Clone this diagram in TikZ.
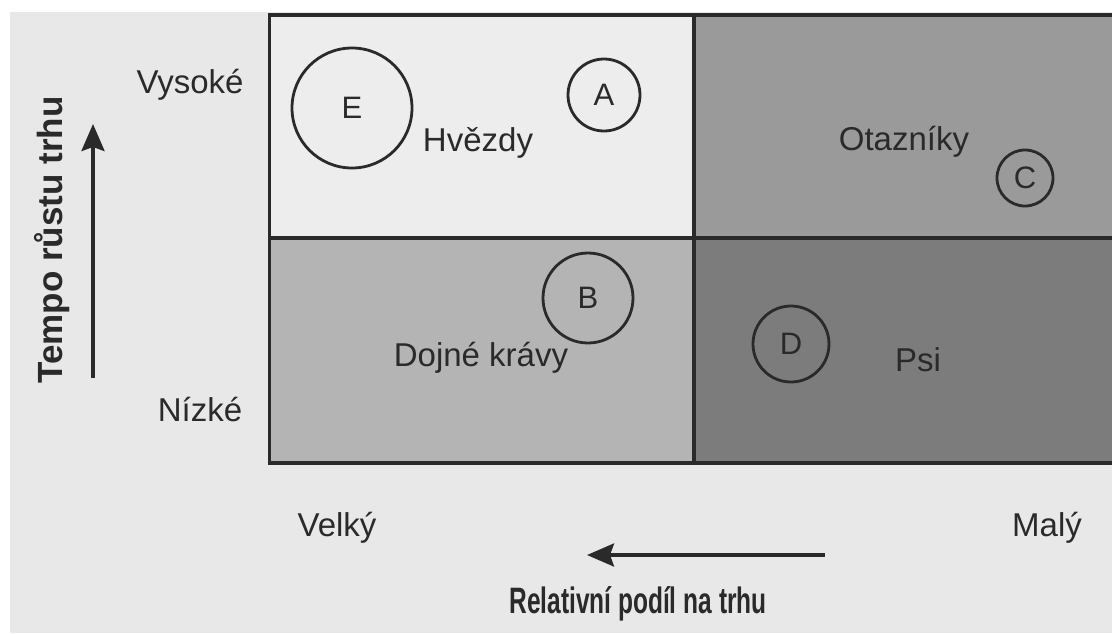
\documentclass[tikz,border=0pt]{standalone}
\usepackage{fontspec}
\setmainfont{Liberation Sans}
\usetikzlibrary{arrows.meta}
\definecolor{bg}{HTML}{E8E8E8}
\definecolor{qstar}{HTML}{EDEDED}
\definecolor{qques}{HTML}{9A9A9A}
\definecolor{qcow}{HTML}{B4B4B4}
\definecolor{qdog}{HTML}{7C7C7C}
\definecolor{ink}{HTML}{2A2A2A}
\tikzset{
  quad/.style={draw=ink, line width=3.8pt},
  bub/.style={circle, draw=ink, line width=2.8pt, inner sep=0pt, font=\fontsize{31}{34}\selectfont, text=ink},
  lab/.style={font=\fontsize{33}{36}\selectfont, text=ink, inner sep=0pt},
  axlab/.style={font=\bfseries\fontsize{35}{38}\selectfont, text=ink, inner sep=0pt},
  axarrow/.style={draw=ink, line width=3.6pt, -{Stealth[length=27pt,width=23pt,inset=4pt]}}
}
\begin{document}
\begin{tikzpicture}[x=1pt,y=-1pt]
\useasboundingbox (0,0) rectangle (1112,633);
\fill[white] (0,0) rectangle (1112,633);
\fill[bg] (10,12) rectangle (1112,633);
% quadrants
\fill[qstar] (270,16) rectangle (694,238);
\fill[qques] (694,16) rectangle (1112,238);
\fill[qcow] (270,238) rectangle (694,463);
\fill[qdog] (694,238) rectangle (1112,463);
\draw[quad] (1116,15) -- (269.5,15) -- (269.5,463) -- (1116,463);
\draw[quad] (694,15) -- (694,463);
\draw[quad] (269.5,238) -- (1116,238);
% bubbles
\node[bub, minimum size=120pt] (E) at (352,108) {E};
\node[bub, minimum size=72pt] (A) at (604,95) {A};
\node[bub, minimum size=56pt] (C) at (1025,178) {C};
\node[bub, minimum size=90pt] (B) at (588,298) {B};
\node[bub, minimum size=76pt] (D) at (791,344) {D};
% quadrant labels
\node[lab] (hv) at (478,143) {Hvězdy};
\node[lab] (ot) at (904,142) {Otazníky};
\node[lab] (dk) at (481,358) {Dojné krávy};
\node[lab] (ps) at (918,360) {Psi};
% axis labels
\node[lab] (vys) at (190,85) {Vysoké};
\node[lab] (niz) at (200,410) {Nízké};
\node[lab] (vel) at (337,528) {Velký};
\node[lab] (mal) at (1047,528) {Malý};
\node[axlab, rotate=90] (ty) at (52,240) {Tempo růstu trhu};
\node[axlab] (tx) at (638,604) {\scalebox{0.7}[1.05]{Relativní podíl na trhu}};
% arrows
\coordinate (ys) at (93,378);
\coordinate (ye) at (93,124);
\coordinate (xs) at (825,555);
\coordinate (xe) at (587,555);
\draw[axarrow] (ys) -- (ye);
\draw[axarrow] (xs) -- (xe);
\end{tikzpicture}
\end{document}
